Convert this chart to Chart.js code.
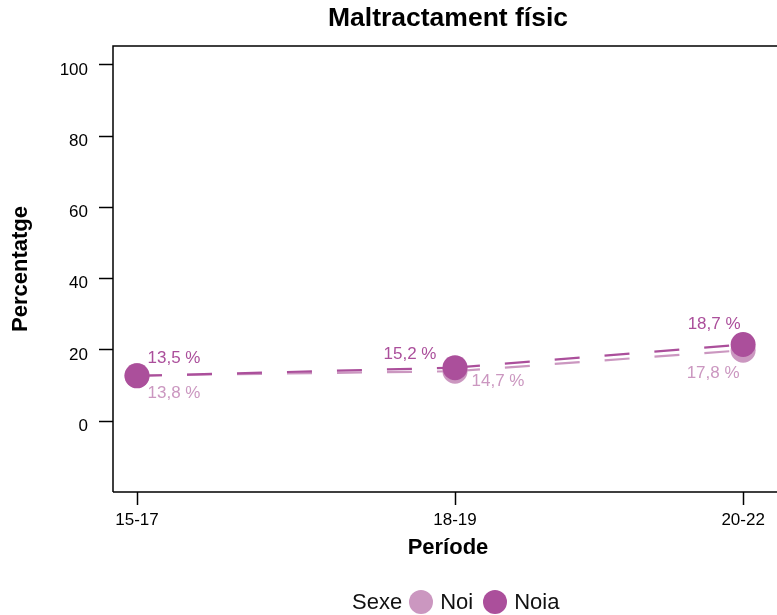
<!DOCTYPE html>
<html>
<head>
<meta charset="utf-8">
<script src="https://cdn.jsdelivr.net/npm/chart.js@4"></script>
<style>
    html, body { margin: 0; padding: 0; background: #fff; overflow: hidden; }
    #wrap { position: relative; width: 777px; height: 615px; overflow: hidden; }
    #chart { position: absolute; left: 0; top: 0; }
    #legend {
        position: absolute; left: 352px; top: 589px;
        display: flex; align-items: center;
        font-family: "Liberation Sans", Arial, sans-serif; font-size: 22px; color: #111;
    }
    #legend .dot { width: 24px; height: 24px; border-radius: 50%; display: inline-block; }
</style>
</head>
<body>
<div id="wrap">
    <canvas id="chart" width="800" height="615"></canvas>
    <div id="legend"></div>
</div>
<script>
const chartTitle = 'Maltractament físic';
const periods = ['15-17', '18-19', '20-22'];
const periodPos = [0, 1, 1.906];
const yTicks = [0, 20, 40, 60, 80, 100];

const seriesNames = ['Noi', 'Noia'];
const noiValues = [12.8, 14.0, 19.9];
const noiaValues = [12.7, 15.0, 21.5];
const noiLabels = ['13,8 %', '14,7 %', '17,8 %'];
const noiaLabels = ['13,5 %', '15,2 %', '18,7 %'];

const colors = { Noi: '#CB97C0', Noia: '#AB4F9B' };
const FONT = '"Liberation Sans", Arial, sans-serif';

// label placement next to each point (dx, dy in px), like the repelled labels of the original
const labelOffsets = {
    Noi: [[37, 18], [43, 10], [-30, 23]],
    Noia: [[37, -18], [-45, -13], [-29, -20]]
};

function toPoints(values) {
    return values.map((v, i) => ({ x: periodPos[i], y: v }));
}

const framePlugin = {
    id: 'frame',
    beforeDatasetsDraw(chart) {
        const { ctx, chartArea } = chart;
        ctx.save();
        ctx.strokeStyle = '#000';
        ctx.lineWidth = 1.5;
        ctx.beginPath();
        ctx.moveTo(chartArea.left, chartArea.bottom);
        ctx.lineTo(chartArea.left, chartArea.top);
        ctx.lineTo(chartArea.right, chartArea.top);
        ctx.lineTo(chartArea.right, chartArea.bottom);
        ctx.lineTo(chartArea.left, chartArea.bottom);
        ctx.stroke();
        ctx.restore();
    },
    afterDraw(chart) {
        const { ctx, chartArea } = chart;
        ctx.save();
        ctx.font = 'bold 26.5px ' + FONT;
        ctx.fillStyle = '#000';
        ctx.textAlign = 'center';
        ctx.textBaseline = 'middle';
        ctx.fillText(chartTitle, (chartArea.left + chartArea.right) / 2, 19);
        ctx.restore();
    }
};

const valueLabelPlugin = {
    id: 'valueLabels',
    afterDatasetsDraw(chart) {
        const ctx = chart.ctx;
        ctx.save();
        ctx.font = '17px ' + FONT;
        ctx.textAlign = 'center';
        ctx.textBaseline = 'middle';
        chart.data.datasets.forEach((ds, di) => {
            const meta = chart.getDatasetMeta(di);
            const offs = labelOffsets[ds.label];
            ctx.fillStyle = ds.borderColor;
            meta.data.forEach((pt, i) => {
                ctx.fillText(ds.valueLabels[i], pt.x + offs[i][0], pt.y + offs[i][1]);
            });
        });
        ctx.restore();
    }
};

function buildLegend() {
    const el = document.getElementById('legend');
    let html = '<span>Sexe</span>';
    seriesNames.forEach((name, i) => {
        html += '<span class="dot" style="background:' + colors[name] + ';margin-left:' + (i ? 10 : 7) + 'px"></span>';
        html += '<span style="margin-left:7px">' + name + '</span>';
    });
    el.innerHTML = html;
}

function makeDataset(name, values, labels, order) {
    return {
        label: name,
        data: toPoints(values),
        valueLabels: labels,
        borderColor: colors[name],
        backgroundColor: colors[name],
        borderWidth: 2.2,
        borderDash: [25, 25],
        segment: {
            borderDashOffset: c => (c.p0DataIndex % 2 ? 0.001 : 0)
        },
        pointRadius: 12.5,
        pointHoverRadius: 12.5,
        pointBorderWidth: 0,
        pointBackgroundColor: colors[name],
        tension: 0,
        order: order
    };
}

document.addEventListener('DOMContentLoaded', () => {
    buildLegend();
    const ctx = document.getElementById('chart').getContext('2d');
    new Chart(ctx, {
        type: 'line',
        data: {
            datasets: [
                makeDataset('Noi', noiValues, noiLabels, 2),
                makeDataset('Noia', noiaValues, noiaLabels, 1)
            ]
        },
        options: {
            responsive: false,
            animation: false,
            events: [],
            layout: { padding: { top: 46, right: 17, left: 0, bottom: 0 } },
            plugins: {
                legend: { display: false },
                title: { display: false },
                tooltip: { enabled: false }
            },
            scales: {
                x: {
                    type: 'linear',
                    min: -0.0755,
                    max: 2.0314,
                    afterBuildTicks: scale => { scale.ticks = periodPos.map(v => ({ value: v })); },
                    afterFit: scale => { scale.height = 123; },
                    grid: { drawOnChartArea: false, drawTicks: true, tickLength: 13, tickColor: '#000', tickWidth: 1.5 },
                    border: { display: false },
                    ticks: {
                        autoSkip: false,
                        maxRotation: 0,
                        padding: 5,
                        color: '#000',
                        font: { family: FONT, size: 17 },
                        callback: (v, i) => periods[i]
                    },
                    title: {
                        display: true,
                        text: 'Període',
                        color: '#000',
                        font: { family: FONT, size: 22, weight: 'bold' },
                        padding: { top: 0, bottom: 54 }
                    }
                },
                y: {
                    min: -19.9,
                    max: 105.3,
                    afterBuildTicks: scale => { scale.ticks = yTicks.map(v => ({ value: v })); },
                    afterFit: scale => { scale.width = 113; },
                    grid: { drawOnChartArea: false, drawTicks: true, tickLength: 14, tickColor: '#000', tickWidth: 1.5 },
                    border: { display: false },
                    ticks: {
                        padding: 11,
                        labelOffset: 5,
                        color: '#000',
                        font: { family: FONT, size: 17 }
                    },
                    title: {
                        display: true,
                        text: 'Percentatge',
                        color: '#000',
                        font: { family: FONT, size: 22, weight: 'bold' },
                        padding: { top: 8, bottom: 0 }
                    }
                }
            }
        },
        plugins: [framePlugin, valueLabelPlugin]
    });
});
</script>
</body>
</html>
